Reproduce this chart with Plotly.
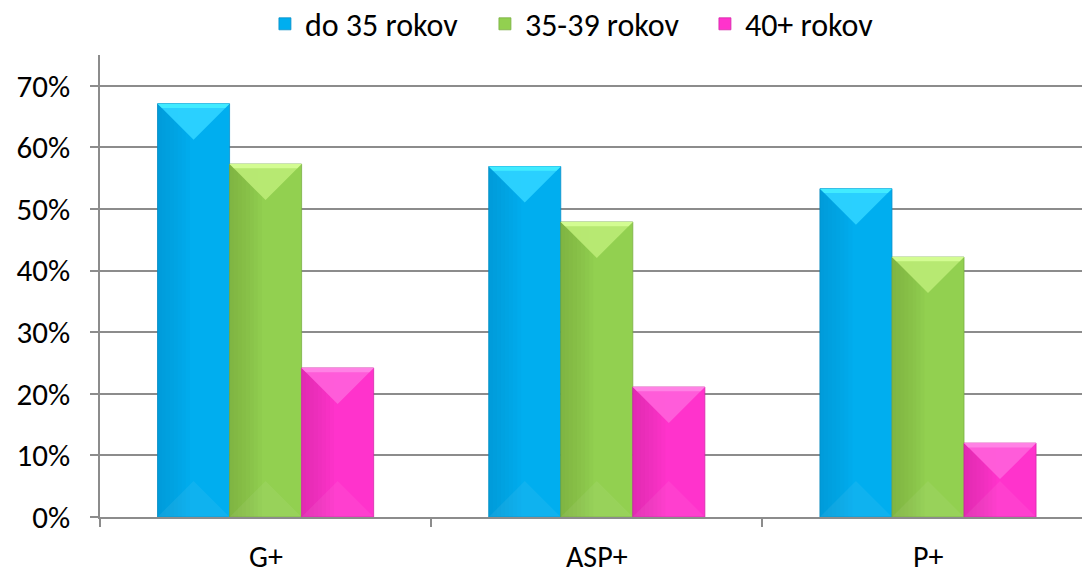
import plotly.graph_objects as go

# Data
categories = ["G+", "ASP+", "P+"]
series_names = ["do 35 rokov", "35-39 rokov", "40+ rokov"]
do_35 = [0.671, 0.569, 0.533]
od_35_39 = [0.573, 0.479, 0.422]
nad_40 = [0.242, 0.211, 0.120]
tick_vals = [0, 0.1, 0.2, 0.3, 0.4, 0.5, 0.6, 0.7]
tick_text = ["0%", "10%", "20%", "30%", "40%", "50%", "60%", "70%"]

values = [do_35, od_35_39, nad_40]

# Styling
W, H = 1082, 570
M_L, M_R, M_T, M_B = 100, 0, 55, 53
X_RANGE = [-0.5, 2.465]
Y_RANGE = [0, 0.75]
BAR_W = 0.2175
FONT = "Carlito, Lato, 'Open Sans', sans-serif"

main_col = ["#00AEEF", "#92D050", "#FF33CC"]
cap_col = ["#2CD2FF", "#B9EA74", "#FF5FDA"]
band_col = ["#45F0FF", "#D8FF98", "#FF88E6"]
dark_col = ["#0088C2", "#6E9E3C", "#C8259E"]
edge_col = ["#0A8FC8", "#7AAE44", "#D42AA8"]

plot_w = W - M_L - M_R
plot_h = H - M_T - M_B
px_per_x = plot_w / (X_RANGE[1] - X_RANGE[0])
px_per_y = plot_h / (Y_RANGE[1] - Y_RANGE[0])

fig = go.Figure()
shapes = []

for i, (name, vals) in enumerate(zip(series_names, values)):
    off = (i - 1.5) * BAR_W
    fig.add_trace(go.Bar(
        name=name, x=categories, y=vals, width=BAR_W, offset=off,
        marker=dict(color=main_col[i], line=dict(color=edge_col[i], width=0.8)),
        hoverinfo="y+name",
    ))
    for idx, v in enumerate(vals):
        x0 = idx + off
        x1 = x0 + BAR_W
        xc = (x0 + x1) / 2
        d = (BAR_W / 2) * px_per_x / px_per_y
        # left-side shading
        n = 8
        for k in range(n):
            shapes.append(dict(
                type="rect", xref="x", yref="y",
                x0=x0, x1=x0 + BAR_W * 0.45 * (1 - k / n), y0=0, y1=v,
                fillcolor=dark_col[i], opacity=0.07, line=dict(width=0), layer="above",
            ))
        # bottom bevel
        shapes.append(dict(
            type="path", xref="x", yref="y",
            path=f"M {x0} 0 L {xc} {d} L {x1} 0 Z",
            fillcolor="white", opacity=0.06, line=dict(width=0), layer="above",
        ))
        # top bevel
        shapes.append(dict(
            type="path", xref="x", yref="y",
            path=f"M {x0} {v} L {xc} {v - d} L {x1} {v} Z",
            fillcolor=cap_col[i], opacity=0.95, line=dict(width=0), layer="above",
        ))
        t = 0.12
        shapes.append(dict(
            type="path", xref="x", yref="y",
            path=f"M {x0} {v} L {x0 + d * t * px_per_y / px_per_x} {v - d * t} "
                 f"L {x1 - d * t * px_per_y / px_per_x} {v - d * t} L {x1} {v} Z",
            fillcolor=band_col[i], opacity=0.85, line=dict(width=0), layer="above",
        ))

# category labels under the axis
annotations = [
    dict(text=c, x=c, xref="x", y=-39 / plot_h, yref="paper",
         xanchor="center", yanchor="middle", showarrow=False,
         font=dict(family=FONT, size=30, color="black"))
    for c in categories
]

fig.update_layout(
    width=W, height=H,
    margin=dict(l=M_L, r=M_R, t=M_T, b=M_B),
    paper_bgcolor="white", plot_bgcolor="white",
    barmode="overlay",
    font=dict(family=FONT, size=30, color="black"),
    shapes=shapes,
    annotations=annotations,
    showlegend=True,
    legend=dict(
        orientation="h", x=0.504, xanchor="center",
        yref="container", y=1 - 24 / H, yanchor="middle",
        font=dict(family=FONT, size=32), itemwidth=30, tracegroupgap=0,
        entrywidth=175, entrywidthmode="pixels",
    ),
    xaxis=dict(
        type="category", range=X_RANGE,
        tickson="boundaries", ticks="outside", ticklen=8,
        tickcolor="#8c8c8c", tickwidth=1.5, showticklabels=False,
        showgrid=False, zeroline=False,
        showline=True, linecolor="#8c8c8c", linewidth=1.5,
        automargin=False,
    ),
    yaxis=dict(
        range=Y_RANGE, tickvals=tick_vals, ticktext=tick_text,
        ticks="outside", ticklen=8, tickcolor="#8c8c8c", tickwidth=1.5,
        showline=True, linecolor="#8c8c8c", linewidth=1.5,
        showgrid=True, gridcolor="#8c8c8c", gridwidth=1.5,
        zeroline=False, tickfont=dict(family=FONT, size=31), ticklabelstandoff=14,
        automargin=False,
    ),
)

fig.write_html("out.html")
